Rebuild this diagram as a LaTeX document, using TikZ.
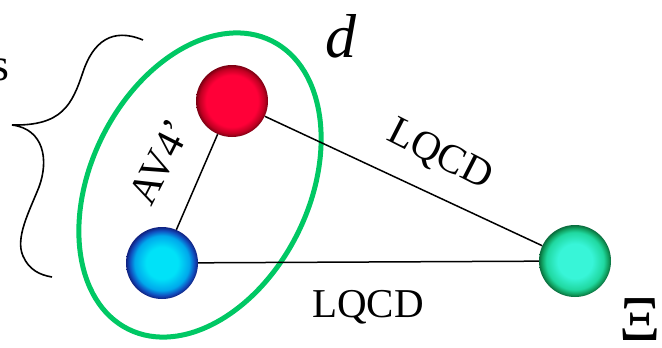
\documentclass[tikz,border=0pt]{standalone}
\usepackage{fontspec}
\setmainfont{Liberation Serif}
\definecolor{ellgreen}{HTML}{00C864}
\definecolor{rc}{HTML}{FF0038}
\definecolor{rm}{HTML}{C00022}
\definecolor{rd}{HTML}{7A0012}
\definecolor{bc}{HTML}{00E2F8}
\definecolor{bm}{HTML}{00A8EC}
\definecolor{bn}{HTML}{1050C0}
\definecolor{bd}{HTML}{10207F}
\definecolor{gc}{HTML}{38F5D8}
\definecolor{gm}{HTML}{20D8A0}
\definecolor{gn}{HTML}{10A060}
\definecolor{gd}{HTML}{0A6A3C}
\pgfdeclareradialshading{redball}{\pgfpoint{0bp}{0bp}}{color(0bp)=(rc); color(18bp)=(rc); color(22.5bp)=(rm); color(25bp)=(rd); color(50bp)=(rd)}
\pgfdeclareradialshading{blueball}{\pgfpoint{0bp}{0bp}}{color(0bp)=(bc); color(11bp)=(bc); color(19bp)=(bm); color(22.5bp)=(bn); color(25bp)=(bd); color(50bp)=(bd)}
\pgfdeclareradialshading{greenball}{\pgfpoint{0bp}{0bp}}{color(0bp)=(gc); color(12bp)=(gc); color(20bp)=(gm); color(23bp)=(gn); color(25bp)=(gd); color(50bp)=(gd)}
\tikzset{
  ball/.style={circle, inner sep=0pt, minimum size=72pt},
  link/.style={draw=black, line width=1.5pt},
  lbl/.style={inner sep=0pt, font=\fontsize{41}{41}\selectfont},
}
\begin{document}
\begin{tikzpicture}[x=1pt,y=-1pt]
\useasboundingbox (0,0) rectangle (662,348);
% green ellipse
\draw[ellgreen, line width=5pt, shift={(200,185)}, rotate=63.5] (0,0) ellipse [x radius=161, y radius=109];
% balls
\node[ball, shading=redball] (r) at (232,101) {};
\node[ball, shading=blueball] (b) at (162,263) {};
\node[ball, shading=greenball] (g) at (575,261) {};
% connectors
\draw[link] (r) -- (b);
\draw[link] (r) -- (g);
\draw[link] (b) -- (g);
% brace
\draw[line width=1.6pt] (143,40) .. controls (112,27) and (93,42) .. (83,72)
  .. controls (72,105) and (62,126) .. (12,125)
  .. controls (44,129) and (49,160) .. (39,187)
  .. controls (29,212) and (15,238) .. (23,256)
  .. controls (29,270) and (40,275) .. (52,277);
% labels
\node[lbl, anchor=base east, font=\fontsize{46}{46}\selectfont] (s) at (10,80) {s};
\node[inner sep=0pt, anchor=base, font=\fontsize{62}{62}\selectfont\itshape] (d) at (341,57) {d};
\node[lbl, anchor=base, rotate=-27] (l1) at (435,165) {LQCD};
\node[lbl, anchor=base] (l2) at (368,317) {LQCD};
\node[lbl, anchor=center, rotate=63] (av) at (160,162) {AV4’};
\node[inner sep=0pt, anchor=base, font=\fontsize{64}{64}\selectfont] (xi) at (640,340) {Ξ};
\end{tikzpicture}
\end{document}
